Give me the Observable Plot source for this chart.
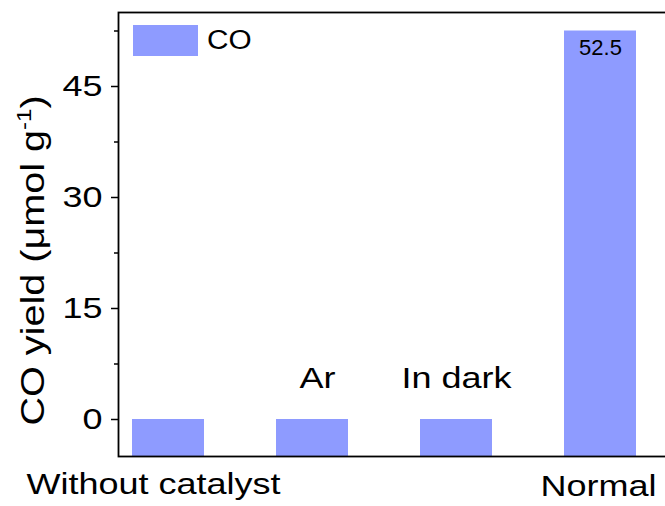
<!DOCTYPE html>
<html><head><meta charset="utf-8">
<script src="https://cdn.jsdelivr.net/npm/d3@7"></script>
<script src="https://cdn.jsdelivr.net/npm/@observablehq/plot@0.6"></script>
<style>
html,body{margin:0;padding:0;background:#fff;overflow:hidden}
svg{font-family:"Liberation Sans",Arial,sans-serif}
</style>
</head><body><div id="chart"></div>
<script>
// ---- data ----
const categories = ["Without catalyst", "Ar", "In dark", "Normal"];
const coYield = [0, 0, 0, 52.5];
const yTicks = [0, 15, 30, 45];
const yMinorTicks = [7.5, 22.5, 37.5, 52.5];
const yDomain = [-5, 55];
const seriesName = "CO";
const yTitle = "CO yield (μmol g";
const yTitleSup = "-1";

const barColor = "#8e9bff";
const data = categories.map((c, i) => ({cat: c, value: coYield[i]}));

const svg = Plot.plot({
  width: 665,
  height: 506,
  marginLeft: 118,
  marginRight: -3,
  marginTop: 12,
  marginBottom: 50,
  style: {fontSize: "30px", fontFamily: '"Liberation Sans", Arial, sans-serif', color: "#000", background: "#fff"},
  x: {type: "band", domain: categories, paddingInner: 0.5, paddingOuter: 0.1597, align: 0.315, axis: null},
  y: {domain: yDomain, axis: null},
  marks: [
    Plot.barY(data, {x: "cat", y1: () => yDomain[0], y2: "value", fill: barColor}),
    Plot.frame({stroke: "#000", strokeWidth: 1.8}),
    Plot.axisY(yTicks, {anchor: "left", tickSize: 7, tickPadding: 9, fontSize: 30, strokeWidth: 1.5, label: null}),
    Plot.axisY(yMinorTicks, {anchor: "left", tickSize: 4, tickFormat: () => "", strokeWidth: 1.5, label: null}),
    Plot.text([yTitle], {frameAnchor: "left", textAnchor: "middle", lineAnchor: "middle", rotate: -90, dx: -85.5, dy: 26, fontSize: 33}),
    Plot.text(data, {filter: d => d.cat === "Without catalyst", x: "cat", text: "cat", frameAnchor: "bottom", lineAnchor: "middle", dy: 27.4, dx: -15, fontSize: 30}),
    Plot.text(data, {filter: d => d.cat === "Normal", x: "cat", text: "cat", frameAnchor: "bottom", lineAnchor: "middle", dy: 30, dx: -2, fontSize: 30}),
    Plot.text(data, {filter: d => d.cat === "Ar", x: "cat", y: "value", text: "cat", lineAnchor: "middle", dy: -41.5, dx: 5, fontSize: 30}),
    Plot.text(data, {filter: d => d.cat === "In dark", x: "cat", y: "value", text: "cat", lineAnchor: "middle", dy: -41.5, dx: 0, fontSize: 30}),
    Plot.text(data, {filter: d => d.value > 1, x: "cat", y: "value", text: d => d.value.toFixed(1), lineAnchor: "middle", dy: 17, fontSize: 22})
  ]
});
document.getElementById("chart").append(svg);

const allText = Array.from(svg.querySelectorAll("text"));

// superscript in y title
const yl = allText.find(t => t.textContent === yTitle);
if (yl) {
  const sup = document.createElementNS("http://www.w3.org/2000/svg", "tspan");
  sup.setAttribute("dy", "-13");
  sup.setAttribute("font-size", "20");
  sup.textContent = yTitleSup;
  const close = document.createElementNS("http://www.w3.org/2000/svg", "tspan");
  close.setAttribute("dy", "13");
  close.textContent = ")";
  yl.append(sup, close);
}

// legend
const lg = d3.select(svg).append("g").attr("aria-label", "legend");
lg.append("rect").attr("x", 133).attr("y", 25).attr("width", 65).attr("height", 31).attr("fill", barColor);
const lgText = lg.append("text").attr("x", 207).attr("y", 49).attr("font-size", 27)
  .attr("text-anchor", "start").attr("fill", "#000").text(seriesName).node();

// widen glyphs to match the reference's wide lettering
function stretch(nodes, k) {
  nodes.forEach(t => {
    if (!t) return;
    const L = t.getComputedTextLength();
    if (L > 0) { t.setAttribute("textLength", (L * k).toFixed(1)); t.setAttribute("lengthAdjust", "spacingAndGlyphs"); }
  });
}
const tickLabels = allText.filter(t => yTicks.map(String).includes(t.textContent));
const catLabels = allText.filter(t => categories.includes(t.textContent));
stretch(catLabels, 1.2);
stretch(tickLabels, 1.2);
stretch([yl], 1.2);
stretch([lgText], 1.1);
</script>
</body></html>
